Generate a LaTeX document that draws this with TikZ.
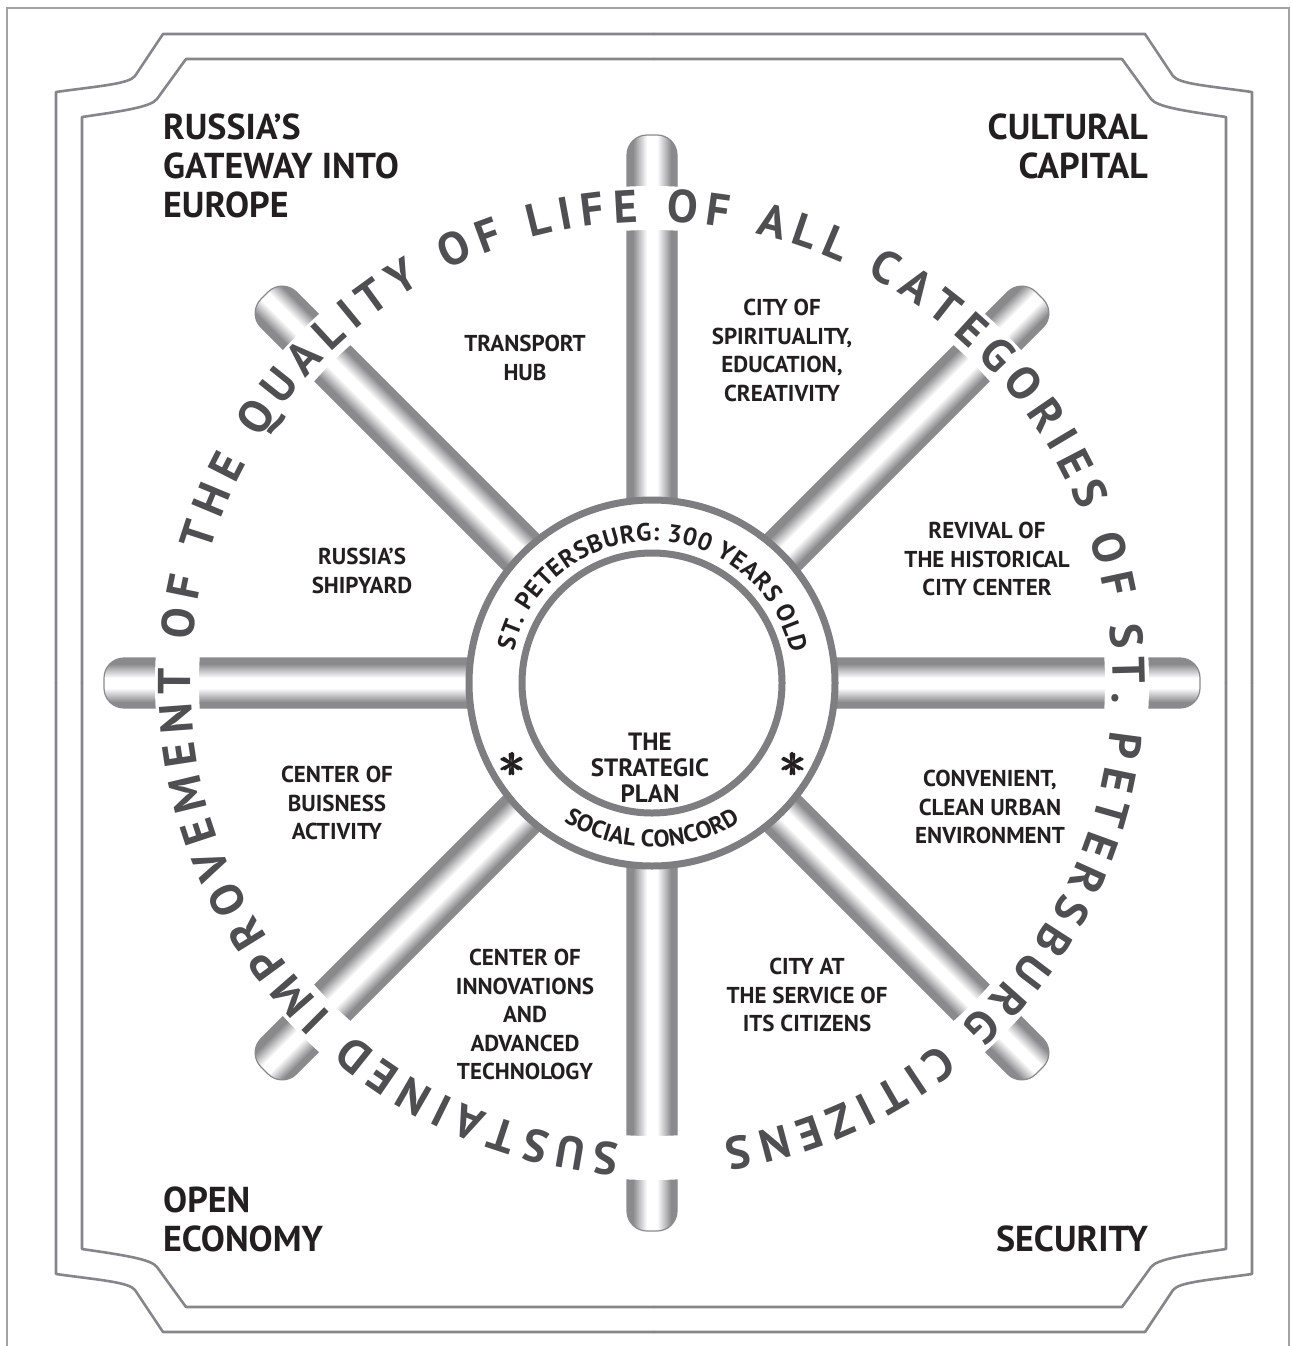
\documentclass[tikz,border=0pt]{standalone}
\usepackage{amsmath}
\usepackage{fontspec}
\setmainfont{PT Sans}
\usetikzlibrary{positioning, decorations.text}

\definecolor{ink}{HTML}{231F20}
\definecolor{mottogray}{HTML}{4F4F51}
\definecolor{rimgray}{HTML}{7E7E81}
\definecolor{framegray}{HTML}{85858A}
\definecolor{rulegray}{HTML}{A3A3A3}
\definecolor{spokedark}{HTML}{8A8A8D}
\definecolor{spokemid}{HTML}{BEBEC0}

\pgfdeclareverticalshading{tube}{100bp}{%
  color(0bp)=(spokedark); color(25bp)=(spokedark); color(31bp)=(spokedark);
  color(37bp)=(spokemid); color(45bp)=(white); color(55bp)=(white);
  color(63bp)=(spokemid); color(69bp)=(spokedark); color(75bp)=(spokedark);
  color(100bp)=(spokedark)}

\begin{document}
\begin{tikzpicture}[
    x=1pt, y=1pt,
    pagerule/.style={draw=rulegray, line width=1.5pt},
    frameline/.style={draw=framegray, line width=2.6pt, line cap=round, line join=round},
    spoke/.style={shading=tube, draw=spokedark, line width=1.2pt, rounded corners=20pt},
    rim/.style={draw=rimgray, line width=7pt},
    corner/.style={font=\bfseries\fontsize{36}{39}\selectfont, text=ink, inner sep=0pt},
    field/.style={font=\bfseries\fontsize{23}{28.5}\selectfont, text=ink, align=center, inner sep=0pt},
    plan/.style={font=\bfseries\fontsize{25}{26}\selectfont, text=ink, align=center, inner sep=0pt},
    star/.style={text=ink, inner sep=0pt},
]
\useasboundingbox (0,0) rectangle (1292,-1346);

% Page rule
\draw[pagerule] (7,-1350) -- (7,-8) -- (1289,-8) -- (1289,-1350);

% Double frame, one quarter mirrored four times
\foreach \sx/\sy in {1/1, -1/1, 1/-1, -1/-1} {
    \begin{scope}[shift={(654,-683)}, xscale=\sx, yscale=\sy]
        \draw[frameline] (0,649) -- (-491,649) -- (-519,607)
            .. controls (-525,599) and (-555,597) .. (-598,591) -- (-598,0);
        \draw[frameline] (0,624) -- (-468,624) -- (-497,584)
            .. controls (-503,576) and (-531,572) .. (-572,566) -- (-572,0);
    \end{scope}
}

% Spokes of the wheel
\foreach \a in {0,45,...,315} {
    \begin{scope}[transform canvas={shift={(652pt,-683pt)}, rotate=\a}]
        \shade[spoke] (120,-25) rectangle (548,25);
    \end{scope}
}

\begin{scope}[shift={(652,-683)}]
    % Band for the motto
    \draw[white, line width=44pt] (0,0) circle (475);
    \path[decorate, decoration={text along path, text align={fit to path}, text color=mottogray,
        text={|\bfseries\fontsize{46}{46}\selectfont|SUSTAINED IMPROVEMENT OF THE QUALITY OF LIFE OF ALL CATEGORIES OF ST. PETERSBURG CITIZENS}}]
        (266:461) arc[start angle=266, end angle=-81, radius=461];

    % Hub ring
    \draw[rim, fill=white] (0,0) circle (183);
    \draw[rim] (0,0) circle (130);
    \path[decorate, decoration={text along path, text align={fit to path}, text color=ink,
        text={|\bfseries\fontsize{25}{25}\selectfont|ST. PETERSBURG: 300 YEARS OLD}}]
        (167:142) arc[start angle=167, end angle=12, radius=142];
    \path[decorate, decoration={text along path, text align={center}, text color=ink,
        text={|\bfseries\fontsize{24}{24}\selectfont|SOCIAL CONCORD}}]
        (-126:164) arc[start angle=-126, end angle=-54, radius=164];
    \node[star] (astl) at (210.5:161) {\scalebox{5.2}{$\pmb{\ast}$}};
    \node[star] (astr) at (-30:164) {\scalebox{5.2}{$\pmb{\ast}$}};
    \node[plan, anchor=north] (plan) at (-2,-50) {THE\\STRATEGIC\\PLAN};
\end{scope}

% Fields between the spokes
\node[field, anchor=north] (transport) at (525,-335) {TRANSPORT\\HUB};
\node[field, anchor=north] (spirit) at (782,-299) {CITY OF\\SPIRITUALITY,\\EDUCATION,\\CREATIVITY};
\node[field, anchor=north] (revival) at (987,-522) {REVIVAL OF\\THE HISTORICAL\\CITY CENTER};
\node[field, anchor=north] (urban) at (990,-770) {CONVENIENT,\\CLEAN URBAN\\ENVIRONMENT};
\node[field, anchor=north] (service) at (807,-958) {CITY AT\\THE SERVICE OF\\ITS CITIZENS};
\node[field, anchor=north] (innov) at (525,-949) {CENTER OF\\INNOVATIONS\\AND\\ADVANCED\\TECHNOLOGY};
\node[field, anchor=north] (business) at (337,-766) {CENTER OF\\BUISNESS\\ACTIVITY};
\node[field, anchor=north] (shipyard) at (362,-548) {RUSSIA’S\\SHIPYARD};

% Corner titles
\node[corner, anchor=north west, align=left] (gateway) at (163,-114) {RUSSIA’S\\GATEWAY INTO\\EUROPE};
\node[corner, anchor=north east, align=right] (capital) at (1148,-114) {CULTURAL\\CAPITAL};
\node[corner, anchor=north west, align=left] (economy) at (163,-1187) {OPEN\\ECONOMY};
\node[corner, anchor=north east] (security) at (1148,-1226) {SECURITY};

\end{tikzpicture}
\end{document}
